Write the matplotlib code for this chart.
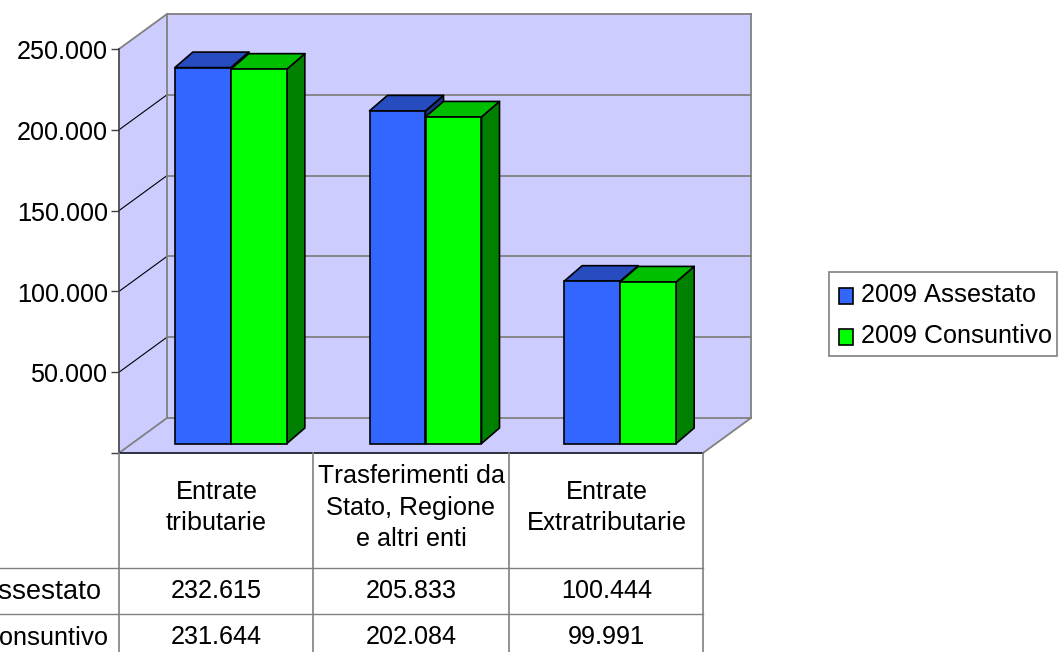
import matplotlib
matplotlib.use("Agg")
import matplotlib.pyplot as plt
from matplotlib.patches import Polygon, Patch, Rectangle
from matplotlib.transforms import Affine2D

plt.rcParams['font.family'] = ['Liberation Sans', 'DejaVu Sans']
plt.rcParams['text.kerning_factor'] = 10
plt.rcParams['text.hinting'] = 'native'
plt.rcParams['text.hinting_factor'] = 1

categories = ["Entrate\ntributarie", "Trasferimenti da\nStato, Regione\ne altri enti", "Entrate\nExtratributarie"]
series_names = ["2009 Assestato", "2009 Consuntivo"]
assestato = [232615, 205833, 100444]
consuntivo = [231644, 202084, 99991]
y_ticks = [0, 50000, 100000, 150000, 200000, 250000]

W, H = 1059, 652
FS = 18.4
FS_WIDE = 19.1
FS_LEG = 18.75
WALL = '#CCCCFF'
GRID = '#808080'
front_cols = ['#3366FF', '#00FF00']
top_cols = ['#264CBF', '#00BF00']
side_cols = ['#1A3380', '#008000']

fig = plt.figure(figsize=(W / 100, H / 100), dpi=100)
L, R, T, B = 119, 703, 49, 453
ax = fig.add_axes([L / W, 1 - B / H, (R - L) / W, (B - T) / H])
ax.set_xlim(0, 3)
ax.set_ylim(0, 250000)
ax.patch.set_alpha(0)
for s in ax.spines.values():
    s.set_visible(False)

ux = 3 / (R - L)
uy = 250000 / (B - T)
ddx, ddy = 48 * ux, 35 * uy

# walls and floor
ymax = 250000
ax.add_patch(Polygon([(ddx, ddy), (3 + ddx, ddy), (3 + ddx, ymax + ddy), (ddx, ymax + ddy)],
                     fc=WALL, ec='none', clip_on=False, zorder=0))
ax.add_patch(Polygon([(0, 0), (ddx, ddy), (ddx, ymax + ddy), (0, ymax)],
                     fc=WALL, ec='none', clip_on=False, zorder=0))
ax.add_patch(Polygon([(0, 0), (3, 0), (3 + ddx, ddy), (ddx, ddy)],
                     fc=WALL, ec='none', clip_on=False, zorder=0))
for v in y_ticks:
    ax.plot([ddx, 3 + ddx], [v + ddy, v + ddy], color=GRID, lw=1.3, clip_on=False, zorder=1)
    edge = v in (0, 250000)
    ax.plot([0, ddx], [v, v + ddy], color=GRID if edge else 'black', lw=1.3 if edge else 0.8,
            clip_on=False, zorder=1)
ax.plot([ddx, ddx], [ddy, ymax + ddy], color=GRID, lw=1.3, clip_on=False, zorder=1)
ax.plot([3 + ddx, 3 + ddx], [ddy, ymax + ddy], color=GRID, lw=1.3, clip_on=False, zorder=1)
ax.plot([3, 3 + ddx], [0, ddy], color=GRID, lw=1.3, clip_on=False, zorder=1)
ax.plot([0, 0], [0, ymax], color='#404040', lw=1.2, clip_on=False, zorder=1.5)
ax.plot([0, 3], [0, 0], color='#202030', lw=1.3, clip_on=False, zorder=1.5)

# bars
shift = Affine2D().translate(14.5, 9.5)
tr = ax.transData + shift
bw = 56 * ux
bdx, bdy = 18 * ux, 15.5 * uy
xc = [i + 0.5 for i in range(3)]
z = 2
for k, vals in enumerate([assestato, consuntivo]):
    for i, v in enumerate(vals):
        x0 = xc[i] + (k - 1) * bw
        x1 = x0 + bw
        ax.add_patch(Polygon([(x1, 0), (x1 + bdx, bdy), (x1 + bdx, v + bdy), (x1, v)], closed=True,
                             fc=side_cols[k], ec='black', lw=1.2, transform=tr, clip_on=False,
                             zorder=z, joinstyle='round'))
        ax.add_patch(Polygon([(x0, v), (x1, v), (x1 + bdx, v + bdy), (x0 + bdx, v + bdy)], closed=True,
                             fc=top_cols[k], ec='black', lw=1.2, transform=tr, clip_on=False,
                             zorder=z, joinstyle='round'))
    ax.bar([c + (k - 0.5) * bw for c in xc], vals, width=bw, color=front_cols[k], edgecolor='black',
           linewidth=1.2, transform=tr, clip_on=False, zorder=z + 0.5)
    z += 1

ax.set_xticks([])
ax.set_yticks(y_ticks)
ax.set_yticklabels([''] + [f"{v:,}".replace(',', '.') for v in y_ticks[1:]], fontsize=FS)
ax.tick_params(axis='y', length=5.8, width=1.0, color='#404040', pad=2.3)
for t in ax.get_yticklabels():
    t.set_transform(t.get_transform() + Affine2D().translate(0, -0.7))

# data table in pixel coordinates
tb = fig.add_axes([0, 0, 1, 1], zorder=5)
tb.set_xlim(0, W)
tb.set_ylim(H, 0)
tb.axis('off')
tb.patch.set_alpha(0)
cols = [119, 313, 509, 703]
for x in cols:
    tb.plot([x, x], [453, H], color=GRID, lw=1.2)
for y in [568, 614]:
    tb.plot([0, 703], [y, y], color=GRID, lw=1.0)
centers = [216.5, 411, 606.5]
for cx, cat, a, c in zip(centers, categories, assestato, consuntivo):
    tb.text(cx, 507.5, cat, ha='center', va='center', fontsize=FS, linespacing=1.4)
    tb.text(cx, 591, f"{a:,}".replace(',', '.'), ha='center', va='center', fontsize=FS)
    tb.text(cx, 637, f"{c:,}".replace(',', '.'), ha='center', va='center', fontsize=FS)
tb.text(101, 592, series_names[0], ha='right', va='center', fontsize=FS_WIDE)
tb.text(108, 638, series_names[1], ha='right', va='center', fontsize=FS)

# legend: frame drawn separately so its padding can differ per side
tb.add_patch(Rectangle((829, 272), 228, 84, fc='white', ec=GRID, lw=1.2))
handles = [Patch(fc=front_cols[i], ec='black', lw=1.2, label=series_names[i]) for i in range(2)]
leg = fig.legend(handles=handles, loc='upper left', bbox_to_anchor=(829 / W, 1 - 272.5 / H),
                 fontsize=FS, frameon=False,
                 handlelength=0.55, handleheight=0.55, handletextpad=0.3,
                 labelspacing=0.66, borderpad=0.40, borderaxespad=0)
leg.set_zorder(6)
leg.get_texts()[0].set_fontsize(FS_LEG)
for p in leg.get_patches():
    p.set_y(p.get_y() - 2.5)

fig.savefig('out.png', dpi=100)
